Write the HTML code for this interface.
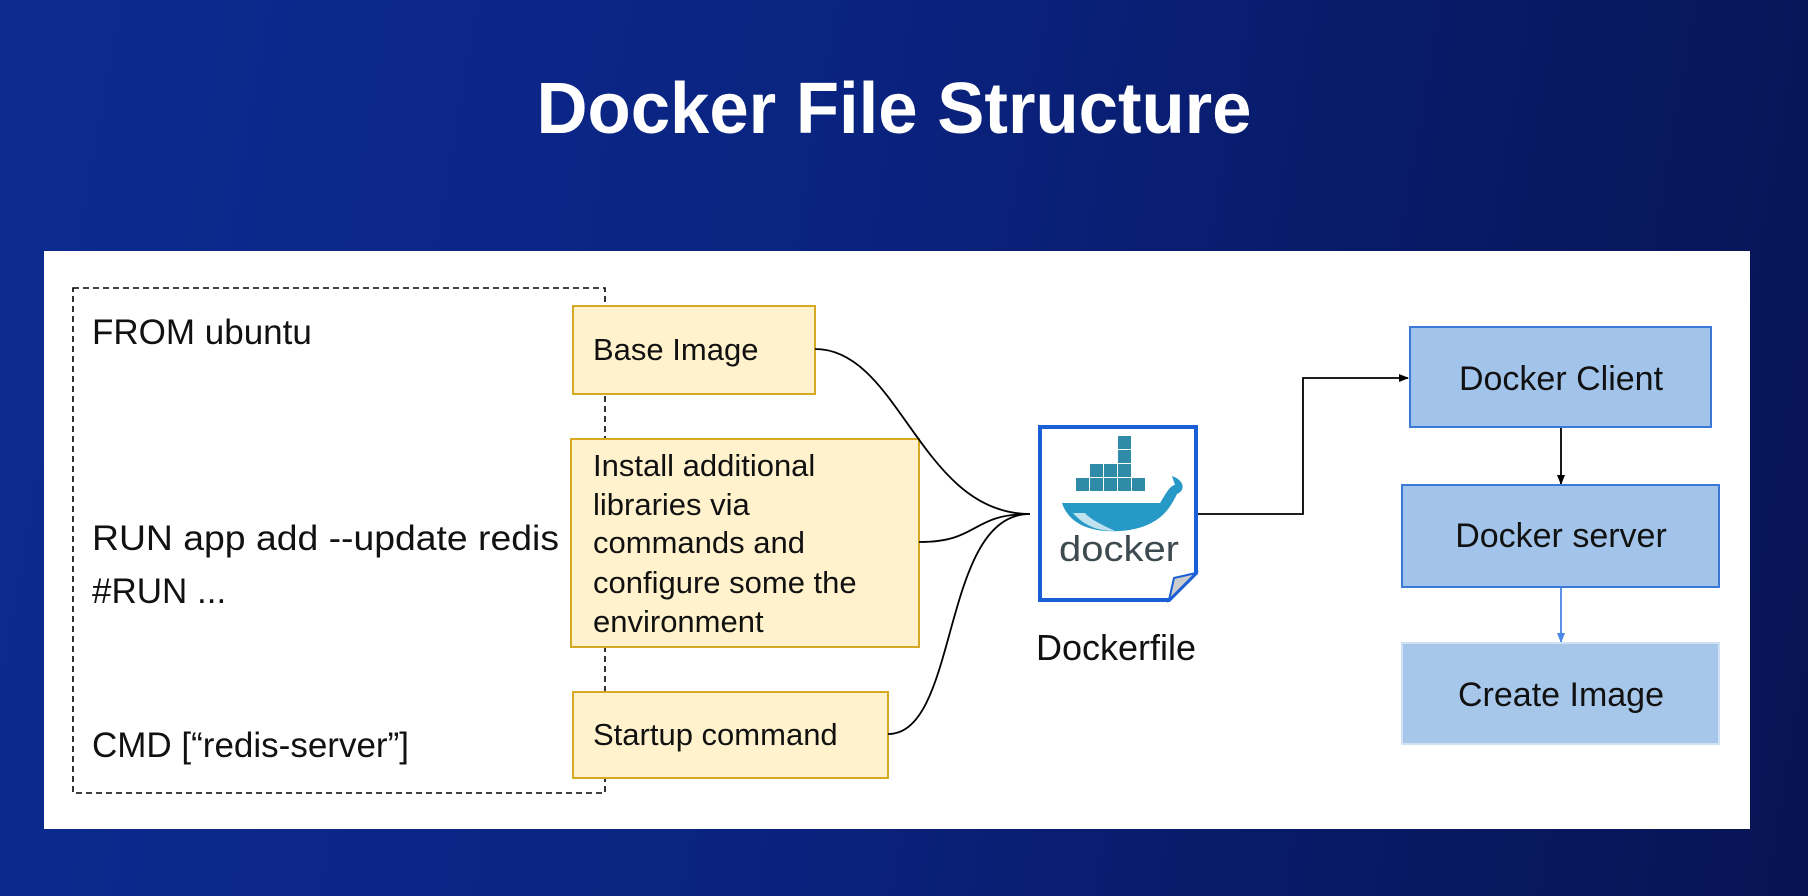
<!DOCTYPE html>
<html><head><meta charset="utf-8"><style>
html,body{margin:0;padding:0;width:1808px;height:896px;overflow:hidden}
body{background:linear-gradient(100deg,#0d2b91 0%,#0a2380 45%,#081a66 75%,#071453 100%)}
svg{position:absolute;left:0;top:0}
text{font-family:"Liberation Sans",Arial,sans-serif}
</style></head><body>
<svg width="1808" height="896" viewBox="0 0 1808 896">
<defs>
<marker id="ab" markerWidth="10" markerHeight="10" refX="9" refY="5" orient="auto" markerUnits="userSpaceOnUse"><path d="M0,1 L10,5 L0,9 z" fill="#000"/></marker>
<marker id="ablue" markerWidth="10" markerHeight="10" refX="9" refY="5" orient="auto" markerUnits="userSpaceOnUse"><path d="M0,1 L10,5 L0,9 z" fill="#4a86e8"/></marker>
</defs>
<text x="894" y="133" text-anchor="middle" font-size="72" font-weight="bold" fill="#fff" textLength="715" lengthAdjust="spacingAndGlyphs">Docker File Structure</text>
<rect x="44" y="251" width="1706" height="578" fill="#fff"/>
<rect x="73" y="288" width="532" height="505" fill="none" stroke="#000" stroke-width="1.6" stroke-dasharray="6,4"/>
<g font-size="35" fill="#111">
<text x="92" y="344">FROM ubuntu</text>
<text x="92" y="550" textLength="467" lengthAdjust="spacingAndGlyphs">RUN app add --update redis</text>
<text x="92" y="603">#RUN ...</text>
<text x="92" y="757">CMD [“redis-server”]</text>
</g>
<g fill="#fff2cc" stroke="#d6a823" stroke-width="2">
<rect x="573" y="306" width="242" height="88"/>
<rect x="571" y="439" width="348" height="208"/>
<rect x="573" y="692" width="315" height="86"/>
</g>
<g font-size="31" fill="#111">
<text x="593" y="360">Base Image</text>
<text x="593" y="476">Install additional</text>
<text x="593" y="515">libraries via</text>
<text x="593" y="553">commands and</text>
<text x="593" y="593">configure some the</text>
<text x="593" y="632">environment</text>
<text x="593" y="745">Startup command</text>
</g>
<g fill="none" stroke="#000" stroke-width="1.8">
<path d="M815,349 C900,349 920,514 1030,514"/>
<path d="M919,542 C980,542 970,514 1030,514"/>
<path d="M888,734 C960,734 940,514 1030,514"/>
<path d="M1196,514 H1303 V378 H1408" marker-end="url(#ab)"/>
<path d="M1561,427 V484" marker-end="url(#ab)"/>
</g>
<path d="M1561,587 V642" stroke="#4a86e8" stroke-width="1.8" fill="none" marker-end="url(#ablue)"/>
<path d="M1040,427 H1196 V573 L1169,600 H1040 Z" fill="#fff" stroke="#1a5fd6" stroke-width="4"/>
<path d="M1196,573 L1169,600 L1174,578 Z" fill="#ccc" stroke="#1a5fd6" stroke-width="2"/>
<g fill="#2f8ba8">
<rect x="1076" y="478" width="13" height="13"/><rect x="1090" y="478" width="13" height="13"/><rect x="1104" y="478" width="13" height="13"/><rect x="1118" y="478" width="13" height="13"/><rect x="1132" y="478" width="13" height="13"/>
<rect x="1090" y="464" width="13" height="13"/><rect x="1104" y="464" width="13" height="13"/><rect x="1118" y="464" width="13" height="13"/>
<rect x="1118" y="450" width="13" height="13"/><rect x="1118" y="436" width="13" height="13"/>
</g>
<path d="M1062,503 H1160 C1165,495 1170,485 1175,485 L1172,476 C1184,480 1186,490 1177,494 C1170,508 1160,528 1120,531 C1088,533 1068,522 1062,503 Z" fill="#2799c6"/>
<path d="M1073,513 C1085,527 1100,531 1115,531 C1100,524 1090,519 1085,513 Z" fill="#bfe3ee"/>
<text x="1119" y="561" text-anchor="middle" font-size="36" fill="#3d4a4f" textLength="120" lengthAdjust="spacingAndGlyphs">docker</text>
<text x="1116" y="660" text-anchor="middle" font-size="36" fill="#111">Dockerfile</text>
<rect x="1410" y="327" width="301" height="100" fill="#a2c4ea" stroke="#3c78d8" stroke-width="2"/>
<rect x="1402" y="485" width="317" height="102" fill="#a2c4ea" stroke="#3c78d8" stroke-width="2"/>
<rect x="1402" y="643" width="317" height="101" fill="#a7c7ea" stroke="#d0e1f5" stroke-width="2"/>
<g font-size="34" fill="#111" text-anchor="middle">
<text x="1561" y="390">Docker Client</text>
<text x="1561" y="547">Docker server</text>
<text x="1561" y="706">Create Image</text>
</g>
</svg>
</body></html>
